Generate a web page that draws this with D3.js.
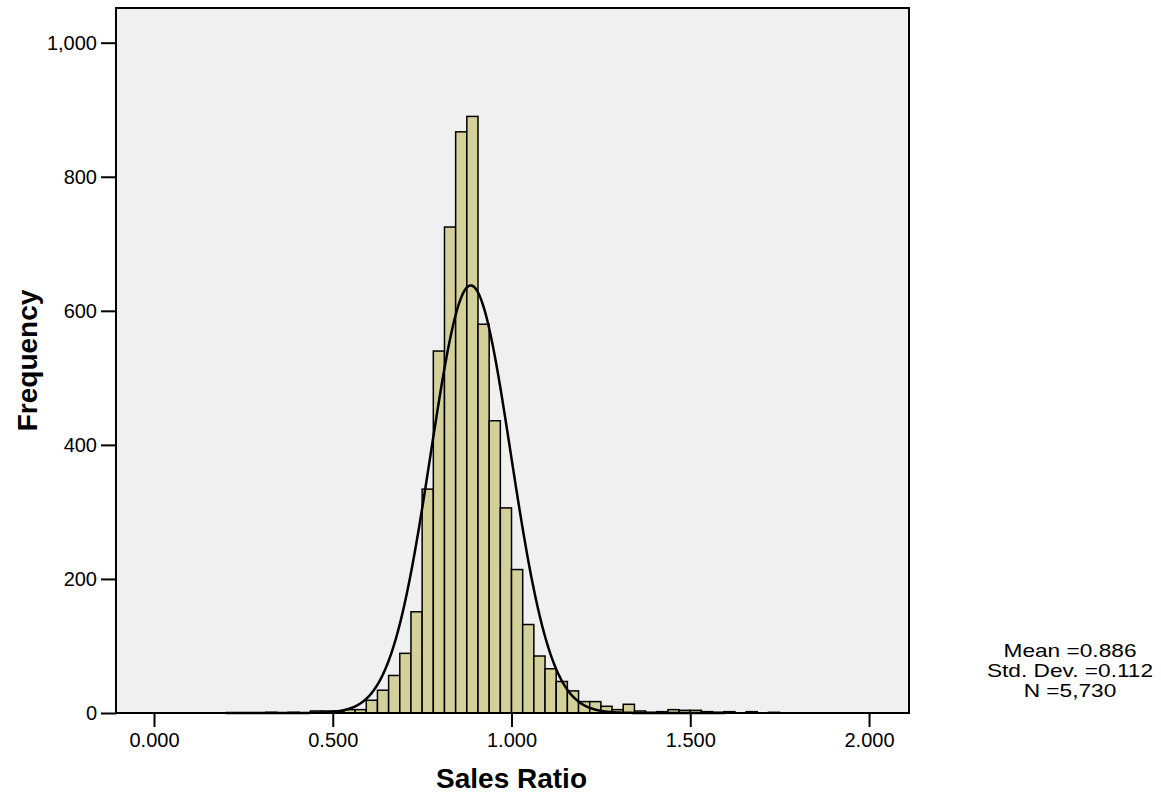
<!DOCTYPE html>
<html>
<head>
<meta charset="utf-8">
<script src="https://cdn.jsdelivr.net/npm/d3@7"></script>
<style>
  body { margin: 0; background: #fff; }
  text { font-family: Arial, "Liberation Sans", sans-serif; fill: #000; }
</style>
</head>
<body>
<div id="chart"></div>
<script>
const width = 1161;
const height = 795;

// Histogram bins: left edge = k * binWidth, counts
const binWidth = 1 / 32;
const binIndex = [10, 12, 14, 15, 16, 17, 18, 19, 20, 21, 22, 23, 24, 25, 26, 27, 28, 29, 30, 31, 32, 33, 34, 35, 36, 37, 38, 39, 40, 41, 42, 43, 44, 45, 46, 47, 48, 49, 50, 51, 53, 55];
const counts   = [1, 1, 3, 3, 3, 5, 5, 19, 34, 56, 89, 151, 334, 540, 725, 867, 890, 580, 436, 306, 214, 132, 85, 66, 47, 33, 17, 17, 10, 5, 13, 3, 1, 2, 5, 4, 4, 2, 1, 2, 2, 1];

// Summary stats shown in the legend
const mean = 0.886;
const stdDev = 0.112;
const n = 5730;

const xTicks = [0, 0.5, 1, 1.5, 2];
const yTicks = [0, 200, 400, 600, 800, 1000];

const bins = binIndex.map((k, i) => ({ x0: k * binWidth, x1: (k + 1) * binWidth, count: counts[i] }));

const margin = { left: 116, right: 909, top: 8, bottom: 713 };

const svg = d3.select("#chart")
    .append("svg")
    .attr("width", width)
    .attr("height", height);

const x = d3.scaleLinear()
    .domain([-0.1063, 2.1118])
    .range([margin.left, margin.right]);

const y = d3.scaleLinear()
    .domain([0, 1000])
    .range([margin.bottom, 42.7]);

// plot background
svg.append("rect")
    .attr("x", margin.left)
    .attr("y", margin.top)
    .attr("width", margin.right - margin.left)
    .attr("height", margin.bottom - margin.top)
    .attr("fill", "#f0f0f0");

// bars
svg.selectAll(".bar")
    .data(bins)
    .enter()
    .append("rect")
    .attr("class", "bar")
    .attr("x", d => x(d.x0))
    .attr("y", d => y(d.count))
    .attr("width", d => x(d.x1) - x(d.x0))
    .attr("height", d => y(0) - y(d.count))
    .attr("fill", "#d4d09a")
    .attr("stroke", "#000")
    .attr("stroke-width", 1.5);

// fitted normal curve
const scaleN = n * binWidth / (stdDev * Math.sqrt(2 * Math.PI));
const curveXs = d3.range(0.2, 1.6, 0.002);
const line = d3.line()
    .x(d => x(d))
    .y(d => y(scaleN * Math.exp(-0.5 * Math.pow((d - mean) / stdDev, 2))))
    .curve(d3.curveBasis);

svg.append("path")
    .datum(curveXs)
    .attr("d", line)
    .attr("fill", "none")
    .attr("stroke", "#000")
    .attr("stroke-width", 2.5);

// frame
svg.append("rect")
    .attr("x", margin.left)
    .attr("y", margin.top)
    .attr("width", margin.right - margin.left)
    .attr("height", margin.bottom - margin.top)
    .attr("fill", "none")
    .attr("stroke", "#000")
    .attr("stroke-width", 2);

// y axis
const yAxis = d3.axisLeft(y)
    .tickValues(yTicks)
    .tickSize(15)
    .tickPadding(4)
    .tickFormat(d3.format(","));

svg.append("g")
    .attr("transform", `translate(${margin.left},0)`)
    .call(yAxis)
    .call(g => g.select(".domain").remove())
    .call(g => g.selectAll("line").attr("stroke", "#000").attr("stroke-width", 2))
    .call(g => g.selectAll("text").style("font-size", "20px").attr("font-family", null));

// x axis
const xAxis = d3.axisBottom(x)
    .tickValues(xTicks)
    .tickSize(14)
    .tickPadding(6)
    .tickFormat(d3.format(".3f"));

svg.append("g")
    .attr("transform", `translate(0,${margin.bottom})`)
    .call(xAxis)
    .call(g => g.select(".domain").remove())
    .call(g => g.selectAll("line").attr("stroke", "#000").attr("stroke-width", 2))
    .call(g => g.selectAll("text").style("font-size", "20px").attr("font-family", null));

// axis titles
svg.append("text")
    .attr("x", x(1))
    .attr("y", 788)
    .attr("text-anchor", "middle")
    .style("font-size", "28px")
    .style("font-weight", "bold")
    .text("Sales Ratio");

svg.append("text")
    .attr("transform", `translate(37,${(margin.top + margin.bottom) / 2}) rotate(-90)`)
    .attr("text-anchor", "middle")
    .style("font-size", "28px")
    .style("font-weight", "bold")
    .text("Frequency");

// stats legend (text in the original is wide and squat, so stretch it)
const legendLines = [
    `Mean =${mean.toFixed(3)}`,
    `Std. Dev. =${stdDev.toFixed(3)}`,
    `N =${d3.format(",")(n)}`
];

svg.append("g")
    .attr("transform", "translate(1070,0) scale(1.26,1)")
    .selectAll(".legend")
    .data(legendLines)
    .enter()
    .append("text")
    .attr("class", "legend")
    .attr("x", 0)
    .attr("y", (d, i) => 657 + i * 20)
    .attr("text-anchor", "middle")
    .style("font-size", "18px")
    .text(d => d);
</script>
</body>
</html>
